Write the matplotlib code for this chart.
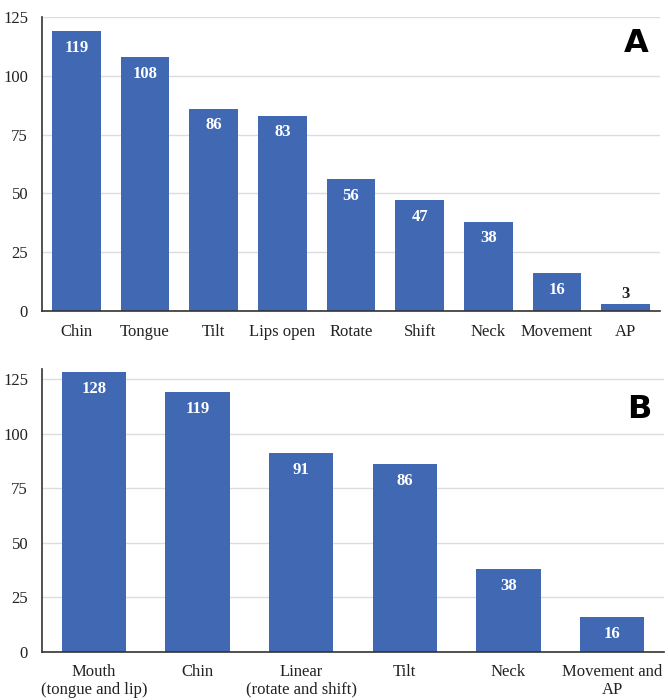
"""Bar charts of motion categories (panels A and B)."""
import matplotlib
matplotlib.use("Agg")
import matplotlib.pyplot as plt

# Panel A
cats_a = ["Chin", "Tongue", "Tilt", "Lips open", "Rotate", "Shift", "Neck", "Movement", "AP"]
vals_a = [119, 108, 86, 83, 56, 47, 38, 16, 3]

# Panel B
cats_b = ["Mouth\n(tongue and lip)", "Chin", "Linear\n(rotate and shift)", "Tilt", "Neck",
          "Movement and\nAP"]
vals_b = [128, 119, 91, 86, 38, 16]

yticks = [0, 25, 50, 75, 100, 125]

BAR = "#4169b3"
SERIF = "Liberation Serif"

plt.rcParams["font.family"] = SERIF


def draw_panel(ax, cats, vals, width, ymax, letter, letter_xy):
    x = list(range(len(cats)))
    ax.bar(x, vals, width=width, color=BAR, zorder=3)
    ax.set_xlim(-0.5, len(cats) - 0.5)
    ax.set_ylim(0, ymax)
    ax.set_yticks(yticks)
    ax.set_xticks(x)
    ax.set_xticklabels(cats, fontsize=12, linespacing=1.1)
    ax.tick_params(axis="both", length=0, labelsize=12, colors="#222222")
    ax.tick_params(axis="y", pad=10)
    ax.tick_params(axis="x", pad=9)
    ax.yaxis.grid(True, color="#dcdcdc", linewidth=1.0, zorder=0)
    for side in ("top", "right"):
        ax.spines[side].set_visible(False)
    for side in ("left", "bottom"):
        ax.spines[side].set_color("#333333")
        ax.spines[side].set_linewidth(1.2)
        ax.spines[side].set_zorder(4)
    for xi, v in zip(x, vals):
        if v < 10:
            ax.annotate(str(v), (xi, v), xytext=(0, 1.5), textcoords="offset points",
                        ha="center", va="bottom", fontsize=12, fontweight="bold",
                        color="#222222", zorder=5)
        else:
            ax.annotate(str(v), (xi, v), xytext=(0, -12), textcoords="offset points",
                        ha="center", va="center", fontsize=12, fontweight="bold",
                        color="white", zorder=5)
    ax.text(letter_xy[0], letter_xy[1], letter, transform=ax.figure.transFigure,
            ha="center", va="center", fontsize=23, fontweight="bold",
            family="DejaVu Sans", color="black")


fig = plt.figure(figsize=(6.68, 7.0), dpi=100)
ax_a = fig.add_axes([42 / 668, 1 - 311 / 700, 618 / 668, 294 / 700])
ax_b = fig.add_axes([42 / 668, 1 - 652 / 700, 622 / 668, 283 / 700])

draw_panel(ax_a, cats_a, vals_a, 0.71, 125, "A", (636 / 668, 1 - 43 / 700))
draw_panel(ax_b, cats_b, vals_b, 0.62, 129.6, "B", (639 / 668, 1 - 410 / 700))

fig.savefig("out.png", dpi=100)
